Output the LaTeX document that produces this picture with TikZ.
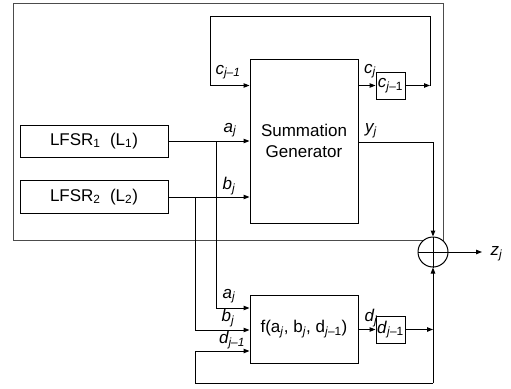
\documentclass[tikz,border=0pt]{standalone}
\usepackage{fontspec}
\setmainfont{Liberation Sans}
\usetikzlibrary{arrows.meta}
\newcommand{\sbj}{\textsubscript{\textit{j}}}
\newcommand{\sbjm}{\textsubscript{\textit{j}--1}}
\begin{document}
\begin{tikzpicture}[x=1pt,y=-1pt,
  line width=1pt,
  >={Triangle[length=6pt,width=4.5pt]},
  blk/.style={draw,rectangle,inner sep=0pt,align=center,font=\fontsize{17}{21.5}\selectfont},
  lbl/.style={inner sep=0pt,font=\fontsize{17}{19}\selectfont\itshape},
  frame/.style={draw=black!70,line width=0.8pt}]
\useasboundingbox (0,0) rectangle (511,388);
% outer frame
\draw[frame] (13,3) rectangle (443,240);
% blocks
\node[blk,minimum width=108pt,minimum height=164pt] (sg) at (304,141) {Summation\\Generator};
\node[blk,minimum width=29pt,minimum height=27pt] (cb) at (390.5,85.5) {\textit{c}\sbjm};
\node[blk,minimum width=148pt,minimum height=32pt] (l1) at (94,141) {LFSR\textsubscript{1}\ \ (L\textsubscript{1})};
\node[blk,minimum width=148pt,minimum height=33pt] (l2) at (94,197) {LFSR\textsubscript{2}\ \ (L\textsubscript{2})};
\node[blk,minimum width=108pt,minimum height=68pt] (fb) at (304,329) {f(a\sbj, b\sbj, d\sbjm)};
\node[blk,minimum width=29pt,minimum height=27pt] (db) at (390.5,329.5) {\textit{d}\sbjm};
\node[draw,circle,fill=white,minimum size=30pt,inner sep=0pt] (xr) at (433,252) {};
\draw (xr.north) -- (xr.south) (xr.west) -- (xr.east);
% coordinates
\coordinate (ta) at (216,141);
\coordinate (tb) at (195,197);
\coordinate (ctr) at (430,85.5);
\coordinate (ctl) at (210,16);
\coordinate (yc) at (433,142);
\coordinate (dj) at (433,329.5);
\coordinate (bot) at (433,383);
\coordinate (zend) at (482,252);
% top feedback
\draw[->] (sg.east |- cb) -- (cb.west);
\draw[->] (cb.east) -- (ctr);
\draw[->] (ctr) |- (ctl) |- (sg.west |- cb);
% LFSR inputs
\draw[->] (l1.east) -- (sg.west |- l1);
\draw[->] (l2.east) -- (sg.west |- l2);
% y_j
\draw[->] (sg.east |- yc) -- (yc) -- (xr.north);
% branches to f
\draw[->] (ta) |- (fb.west |- 0,308);
\draw[->] (tb) |- (fb.west |- 0,330);
% f to d box
\draw[->] (fb.east |- db) -- (db.west);
\draw[->] (db.east) -- (dj);
% bottom feedback
\draw[->] (bot) -- (xr.south);
\draw[->] (bot) -| (195,351) -- (fb.west |- 0,351);
% output
\draw[->] (xr.east) -- (zend);
% labels
\node[lbl] (l_cjm) at (228,72) {c\sbjm};
\node[lbl] (l_cj) at (370,71) {c\sbj};
\node[lbl] (l_a1) at (230,130) {a\sbj};
\node[lbl] (l_b1) at (229,186) {b\sbj};
\node[lbl] (l_y) at (371,131) {y\sbj};
\node[lbl] (l_a2) at (229,296) {a\sbj};
\node[lbl] (l_b2) at (228,318) {b\sbj};
\node[lbl] (l_dm) at (232,340) {d\sbjm};
\node[lbl] (l_dj) at (371,318) {d\sbj};
\node[lbl,anchor=west] (l_z) at (490,254) {z\sbj};
\end{tikzpicture}
\end{document}
